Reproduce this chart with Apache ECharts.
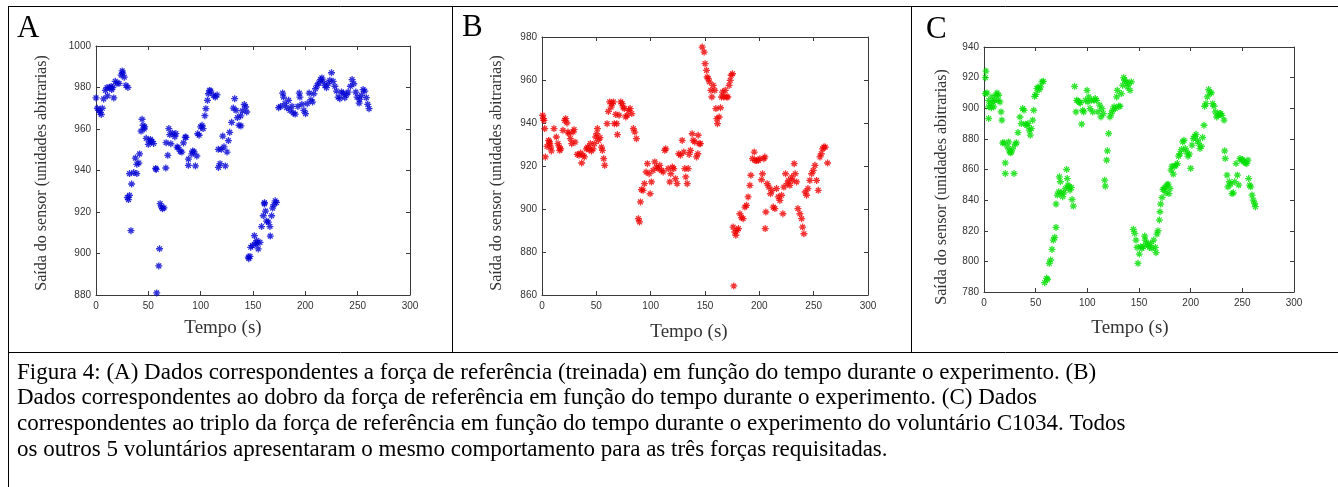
<!DOCTYPE html>
<html>
<head>
<meta charset="utf-8">
<script src="https://cdn.jsdelivr.net/npm/echarts@6/dist/echarts.min.js"></script>
<style>
html, body { margin: 0; padding: 0; background: #fff; }
#chart { width: 1338px; height: 487px; }
</style>
</head>
<body>
<div id="chart"></div>
<script>
// tempo (s), saida do sensor
var panelLetters = ['A', 'B', 'C'];
var xTitle = 'Tempo (s)';
var yTitle = 'Saída do sensor (unidades abitrarias)';
var xRange = [0, 300, 50];
var yRangeA = [880, 1000, 20];
var yRangeB = [860, 980, 20];
var yRangeC = [780, 940, 20];

var dataA = [
  [0,975],[1.3,970],[3,969],[4,968],[5,967],[6,970],[7.3,974.5],[9,978.6],[10.5,980],[11,976],
  [13,980],[14.5,980.5],[15,979],[16,980],[17,975],[18.4,983],[20,982],[22,982],[24,986],[25,988],
  [25.5,987],[27,985],[28.6,981],[30.5,980],
  [30,927],[31,926],[32,928],[33.4,911],[32,938.5],[34,933.5],[36,939],[39,938.5],[37.6,946],[39,943],
  [41,943.6],[41.6,948],[44,964.7],[45,961.8],[46.5,961],[43,959],[46,960],[48,955.5],[50,952.6],
  [51.5,954],[52,955],[53.5,954],[55,953],[57,941],[57.5,940.5],[61.3,924],[62.5,922.4],[63.5,921.6],
  [65,922],[60.7,902.3],[60,894],[58,881],
  [66.7,941.2],[67,953.4],[68.6,947.3],[69.6,960.2],[70.5,957.3],[71.5,952.9],[73.1,958],[75.3,956.3],
  [76.3,957.8],[77.5,951.3],[78.5,951],[80.4,949.2],[82,948.9],[83.6,953.3],[85.2,956.1],[86,956],
  [88.3,945.5],[88.3,942.5],[91.5,948],[92.4,949.4],[93.7,949],[95,942.2],[96.3,947],[97.2,957.7],
  [98.5,957],[100,961],[101.3,961.8],[102.3,960.2],[104,966.4],[105,969.8],[106.5,973.8],[107.4,977],
  [108.4,978.6],[109.7,978.3],[112.2,976.2],[114,975.4],[115.7,976.4],
  [116.9,950.2],[117,941.5],[118.5,943.3],[119.8,950.2],[121.1,956.6],[122.3,951.4],[123.6,942.2],
  [125.2,948.9],[126.5,954.4],[127.7,958.4],[129.6,963.2],[131.2,970.1],[132.5,974.6],[133.8,969],
  [135.1,965.5],[136.6,961.8],[138.2,966.3],[138.5,961.5],[139.8,968.7],[141.7,971.8],[143,970.6],[144,968.2],
  [145.5,898.3],[146,897.5],[147.1,898.6],[147.8,903],[149.4,903.8],[151.3,908.6],[152.2,904.6],
  [153.5,906.2],[154,905],[155,902.2],[156.7,905.4],[158.2,913],[159.8,918.2],[160.8,923.9],[161,924.5],
  [162,920.4],[163,915.6],[164.6,915.1],[166.2,913],[166.5,908.4],[167.8,918.2],[168.7,921.9],
  [170,923.5],[171.2,925.4],[172.5,924.6],
  [174.5,970.3],[176.4,970.9],[178.3,977.3],[179.2,975.4],[180.5,972.2],[182.1,970.3],[184,973.8],
  [185.3,969],[187.2,970.9],[188.4,967.7],[190.3,967.2],[192.9,970.9],[194.2,977.3],[194.8,975.4],
  [196.7,971.9],[198.6,969],[200.2,967.4],[201.8,972.2],[203.7,977.3],[205.3,974.1],[206.9,973],
  [208.1,977],[209.7,979.4],[211.3,981],[212.9,982.2],[214.5,983.8],[215.8,984.6],[217,983],
  [218.6,981],[220.2,979.9],[221.8,981.8],[223.4,983.5],[225,987.1],[226.6,983],[228.2,980.6],
  [229.7,978.3],[231.3,975.4],[232.9,974.6],[234.5,977.8],[236.1,977.3],[237.7,975.1],[239.3,976.5],
  [240.9,977.8],[243.1,980.6],[244.7,983.8],[246.3,981.8],[248.2,977.8],[249.4,975.4],[251.4,972.5],
  [252,974.3],[253.6,976.2],[255.2,979],[256.8,978.3],[258.3,975.1],[259.6,971.9],[260.9,969.8]
];

var dataB = [
  [0.6,943.6],[1.2,942],[1.8,941.2],[2.5,937.4],[3.1,924.2],[4.6,929.1],[6.1,931.9],[6.8,931.2],
  [7.1,930.4],[8,928.8],[8.6,927],[11,937.4],[13.2,933.5],[14.7,930.4],[16,928.8],[16.3,927.3],
  [17.2,928],[19.3,936.6],[20.9,941.2],[21.8,942],[23,940],[23.9,935.8],[24.9,935],[26.1,932.7],
  [27.3,930.4],[28.6,935.8],[29.5,936.9],[30.4,931.1],[32.5,925.4],[34.1,925],[35.6,926],[36.5,921.4],
  [37.8,925],[39,924.2],[40.8,928],[42.1,928.8],[43.3,927.6],[44.5,930.4],[45.4,927],[47,928],
  [48.2,930.4],[49.4,933.5],[50.4,935],[51,937.4],[51.9,931.9],[53.4,933.2],[54.7,928.8],[55.6,927.3],
  [56.8,923.4],[57.7,920.3],
  [59.9,939.7],[61.1,945.4],[62.3,949.8],[63.6,947.4],[64.5,949],[65.7,949.8],[66.6,939.7],[67.9,944],
  [68.8,939.7],[69.4,934.6],[70.9,943.6],[72.5,949.8],[73.7,949],[74.6,947.4],[75.8,946.7],[77.1,942.8],
  [78.3,943.6],[79.8,945.9],[81.1,946.7],[82.6,944.4],[84.1,937.4],[85.4,935.8],[86.9,932.7],
  [88.7,895.5],[89.7,894],[90.6,903.3],[91.5,909],[93,908.7],[94.3,911.8],[95.8,917.2],[97,921.1],
  [98.6,916.4],[99.5,907.1],[100.7,912.6],[102.2,918],[103.8,921.9],[105.3,919.5],[106.8,918.8],
  [108.4,920.3],[109.9,918],[111.5,917.2],[113,927.3],[113.9,928],[116.1,918.8],[117.6,912.6],
  [118.5,916.4],[120,919.5],[121.3,918.8],[122.8,914.1],[124.3,911.8],[125.9,925.7],[127.4,925],
  [129,931.9],[130.5,926.5],[131.4,918.8],[132.3,914.9],[133.6,911.8],[134.5,918.8],[135.4,925.4],
  [136.6,927.3],[138.2,935],[139.1,931.9],[140.6,931.2],[142.2,924.2],[143.4,925.7],[143.7,934.3],
  [144.6,930.4],[145.8,930.4],
  [147.4,975.3],[149.2,973],[150.1,967.6],[151.4,964.5],[152,961.4],[152.9,960.6],[154.1,959.1],
  [155.4,955.2],[156.3,952.1],[157.5,957.5],[159,955.2],[160,946.7],[160.9,942],[161.5,939.7],
  [163,942.8],[164.3,947.1],[165.2,952.1],[166.1,954.4],[167.3,952.1],[168.6,955.2],[169.8,952.1],
  [171,952.1],[172.2,957.5],[173.2,959.8],[174.1,962.2],[175.3,962.9],
  [176.5,864.2],
  [175.9,891.6],[177.5,889.3],[178.4,887.8],[179.6,890.1],[180.8,890.9],[182.1,897.8],[183.6,896],
  [185.1,895.5],[186.7,900.9],[188.2,901.7],[189.7,905.6],[191.3,911],[192.2,915.7],[193.7,923.4],
  [195.3,926.5],[196.2,922.6],[197.4,922.6],[199,922.6],[200.5,923.4],[202,913.6],[202.9,916.4],
  [204.2,923.4],[205.1,924.2],[205.4,890.9],[206,898.6],[207.2,911.8],[208.8,910.2],[210.3,907.1],
  [211.5,908.7],[212.8,900.9],[214.3,900.2],[215.8,909.5],[217.4,905.6],[218.9,904],[220.4,906.4],
  [221.7,897.8],[222.6,910.2],[224.1,916.4],[225.7,911.8],[226.9,913.3],[228.1,911],[229.7,914.9],
  [230.6,913.3],[232.1,921.1],[233,916.4],[234.3,912.6],[235.5,900.2],[237.3,897.8],[238.9,895.5],
  [239.8,891.6],[241,888.5],[242.2,907.9],[243.5,906.4],[244.7,909.5],[246.5,913.3],[248.1,916.4],
  [249.6,918],[251.2,920.3],[252.7,913.3],[254.2,908.7],[255.8,924.2],[257,925.7],[258.2,928],
  [259.4,928.8],[260.7,928.8],[262.8,921.4]
];

var dataC = [
  [1.3,920],[1.9,924.3],[1.3,909.6],[2.9,910],[4.5,905.2],[4.5,900.9],[4.5,893.3],[6.1,903],[7.1,900.4],
  [7.7,907.4],[8.7,904.1],[9.4,900.9],[10.3,905.2],[11.6,908.5],[12.6,910],[13.5,905.2],[14.2,908.5],
  [15.5,904.1],[16.5,897.6],[17.3,892.2],
  [18.1,877.4],[19.4,877.4],[20.6,864.3],[20.6,857.4],[22.6,874.8],[23.9,878],[24.5,872.2],[25.5,870.9],
  [26.5,871.5],[27.7,873.7],[29,857.4],[30.3,876.5],[31.3,877.4],
  [32.9,884.1],[34.8,894.3],[36.1,890],[37.4,899.8],[38.7,898.7],[40,889.6],[41.3,888.9],[42.6,890],
  [43.9,885.7],[44.8,882.4],[45.8,886.7],[47.1,892.2],[48.1,898.7],[49,907.8],[50.3,909.1],[51.3,912.8],
  [52.3,913.9],[53.5,912.2],[54.8,913.9],[56.1,917.2],[57.4,917.6],
  [58.7,786.1],[60.6,788.9],[61.5,788.3],[63.2,798.7],[64.5,800.9],[65.8,807.8],[67.1,813.9],[68.4,815.7],
  [69.7,822.2],[69.7,837.4],[71,843.3],[72.3,845.4],[72.9,855.2],[73.9,852],[74.8,844.8],[76.1,842.2],
  [77.4,844.8],[78.7,847.6],[80,860],[80.6,854.1],[81.3,849.8],[81.9,848.7],[83.2,846.5],[84.5,848.3],
  [85.2,840.4],[86.5,836.1],
  [87.7,914.3],[89,897.6],[89.7,905.2],[91,904.8],[92.3,903.9],[93.2,903.5],[94.5,889.6],[95.5,898.7],
  [96.5,897.6],[98.1,905.2],[99.7,911.7],[100.6,904.1],[101.3,907.4],[102.6,899.8],[103.9,905.2],
  [105.2,897.6],[106.5,905.2],[107.7,906.3],[109,905.2],[110.3,897.6],[111.9,902],[113.2,894.3],
  [114.2,899.8],[115.5,896.5],
  [116.8,853],[117.4,849.1],[118.7,866.1],[119.4,872.2],[120.6,883.5],[121.9,894.3],[123.2,896.5],
  [124.5,898.7],[125.8,900.9],[127.1,899.8],[128.4,907.4],[129,911.7],[130.3,901.3],[131.6,901.3],
  [132.9,909.6],[134.2,915],[135.2,920],[136.1,918.3],[137.4,917.2],[138.7,913.9],[140,916.1],
  [141.3,911.7],[142.6,917.2],
  [144.5,820.9],[145.8,818.3],[147.1,813.9],[148.1,809.1],[149,798.7],[150.3,804.8],[151.6,809.6],
  [152.9,808.5],[154.2,809.6],[155.5,816.5],[156.1,813.9],[157.4,811.7],[158.7,810.7],[160,809.1],
  [161.3,811.7],[162.6,808.5],[164.2,813.9],[165.8,809.1],[166.5,805.7],[167.4,817.8],[168.4,820],
  [169.7,827],[170.3,832.4],[171,837.4],[172.3,841.7],[173.2,847],[174.2,847],[175.2,848.3],
  [176.1,844.8],[177.1,849.8],[178.1,850.4],[179,844.3],[180,847.6],[181,859.6],[181.9,862.2],
  [183.2,857],[184.5,862.2],[185.8,862.8],[187.1,863.9],[188.4,868.7],[189.7,870.4],[191,873],
  [192.3,878],[193.5,879.1],[194.8,873.7],[196.1,871.5],[197.4,868.7],[198.7,870],[200,860.7],
  [201.3,875.9],[202.6,880.2],[203.9,881.7],[205.2,883],[206.5,879.1],[207.7,877],[209,873.7],
  [210.3,875.2],[211.6,880.9],[212.9,888.9],[213.5,901.3],[214.8,903],[216.1,907.4],[217.4,912.2],
  [218.7,910],[220,910],[221.3,903],[222.6,901.3],[223.9,897.6],[225.2,894.3],[226.5,895.4],
  [227.7,896.5],[229,896.5],[230.3,895.4],[232.3,892.2],
  [232.9,872.2],[233.5,867.2],[235.2,856.3],[236.1,848.7],[237.4,852],[238.7,850.4],[240,844.3],
  [241.3,844.8],[242.6,852],[243.9,863.9],[245.2,856.3],[246.5,849.8],[247.7,867.2],[249,866.1],
  [250.3,866.5],[251.6,865],[252.9,864.3],[254.2,863.9],[255.5,866.1],[256.1,854.1],[257.1,849.8],
  [258.1,848.7],[259.4,843.3],[260.6,840],[261.9,837.8],[262.6,835.7]
];

var panelData = [dataA, dataB, dataC];
var panelYRange = [yRangeA, yRangeB, yRangeC];
var panelColors = ['#0000d2', '#ee0000', '#00dd00'];

var grids = [
  { left: 96, top: 46, width: 314, height: 249 },
  { left: 542, top: 37, width: 326, height: 258 },
  { left: 984, top: 47, width: 310, height: 245 }
];

var asterisk = 'path://M5,0L5,10M0,5L10,5M1.6,1.6L8.4,8.4M8.4,1.6L1.6,8.4';
var boxColor = '#3a3a3a';
var tickFont = { fontFamily: 'Liberation Sans', fontSize: 10, color: '#333' };
function plainNumber(v) { return String(v); }

var xAxes = [], yAxes = [], series = [];
grids.forEach(function (g, i) {
  var yr = panelYRange[i];
  ['bottom', 'top'].forEach(function (pos) {
    xAxes.push({
      gridIndex: i, type: 'value', position: pos,
      min: xRange[0], max: xRange[1], interval: xRange[2],
      axisLine: { show: true, onZero: false, lineStyle: { color: boxColor, width: 1 } },
      axisTick: { show: true, inside: true, length: 4, lineStyle: { color: boxColor } },
      axisLabel: Object.assign({ show: pos === 'bottom', margin: 6, formatter: plainNumber }, tickFont),
      splitLine: { show: false }
    });
  });
  ['left', 'right'].forEach(function (pos) {
    yAxes.push({
      gridIndex: i, type: 'value', position: pos,
      min: yr[0], max: yr[1], interval: yr[2],
      axisLine: { show: true, onZero: false, lineStyle: { color: boxColor, width: 1 } },
      axisTick: { show: true, inside: true, length: 4, lineStyle: { color: boxColor } },
      axisLabel: Object.assign({ show: pos === 'left', margin: 5, formatter: plainNumber }, tickFont),
      splitLine: { show: false }
    });
  });
  series.push({
    type: 'scatter',
    xAxisIndex: 2 * i, yAxisIndex: 2 * i,
    data: panelData[i],
    symbol: asterisk,
    symbolSize: 7,
    itemStyle: { color: 'transparent', borderColor: panelColors[i], borderWidth: 1.3 },
    emphasis: { disabled: true },
    silent: true
  });
});

// text placed like in the figure
var letterPos = [[17, 44], [462, 43], [926, 45]];
var xTitlePos = [[223, 328], [689, 332], [1130, 328]];
var yTitlePos = [[42, 173], [497, 173], [942, 187]];

var graphics = [];
function hline(x1, x2, y) {
  graphics.push({ type: 'line', shape: { x1: x1, y1: y, x2: x2, y2: y }, style: { stroke: '#000', lineWidth: 1 } });
}
function vline(x, y1, y2) {
  graphics.push({ type: 'line', shape: { x1: x, y1: y1, x2: x, y2: y2 }, style: { stroke: '#000', lineWidth: 1 } });
}
hline(8, 1338, 6.5);
hline(8, 1338, 352.5);
vline(8.5, 6, 487);
vline(452.5, 6, 352);
vline(911.5, 6, 352);

for (var i = 0; i < 3; i++) {
  graphics.push({
    type: 'text', x: letterPos[i][0], y: letterPos[i][1],
    style: { text: panelLetters[i], fontFamily: 'Liberation Serif', fontSize: 31, fill: '#000', verticalAlign: 'bottom' }
  });
  graphics.push({
    type: 'text', x: xTitlePos[i][0], y: xTitlePos[i][1],
    style: { text: xTitle, fontFamily: 'Liberation Serif', fontSize: 19, fill: '#333', align: 'center', verticalAlign: 'middle' }
  });
  graphics.push({
    type: 'text', x: yTitlePos[i][0], y: yTitlePos[i][1], rotation: Math.PI / 2,
    style: { text: yTitle, fontFamily: 'Liberation Serif', fontSize: 16, fill: '#333', align: 'center', verticalAlign: 'middle' }
  });
}

var caption = [
  'Figura 4: (A) Dados correspondentes a força de referência (treinada) em função do tempo durante o experimento. (B)',
  'Dados correspondentes ao dobro da força de referência em função do tempo durante o experimento. (C) Dados',
  'correspondentes ao triplo da força de referência em função do tempo durante o experimento do voluntário C1034. Todos',
  'os outros 5 voluntários apresentaram o mesmo comportamento para as três forças requisitadas.'
];
graphics.push({
  type: 'text', x: 17, y: 360,
  style: { text: caption.join('\n'), fontFamily: 'Liberation Serif', fontSize: 23, lineHeight: 25.6, fill: '#000', verticalAlign: 'top' }
});

var chart = echarts.init(document.getElementById('chart'), null, { renderer: 'canvas' });
chart.setOption({
  animation: false,
  backgroundColor: '#fff',
  grid: grids,
  xAxis: xAxes,
  yAxis: yAxes,
  series: series,
  graphic: graphics
});
</script>
</body>
</html>
